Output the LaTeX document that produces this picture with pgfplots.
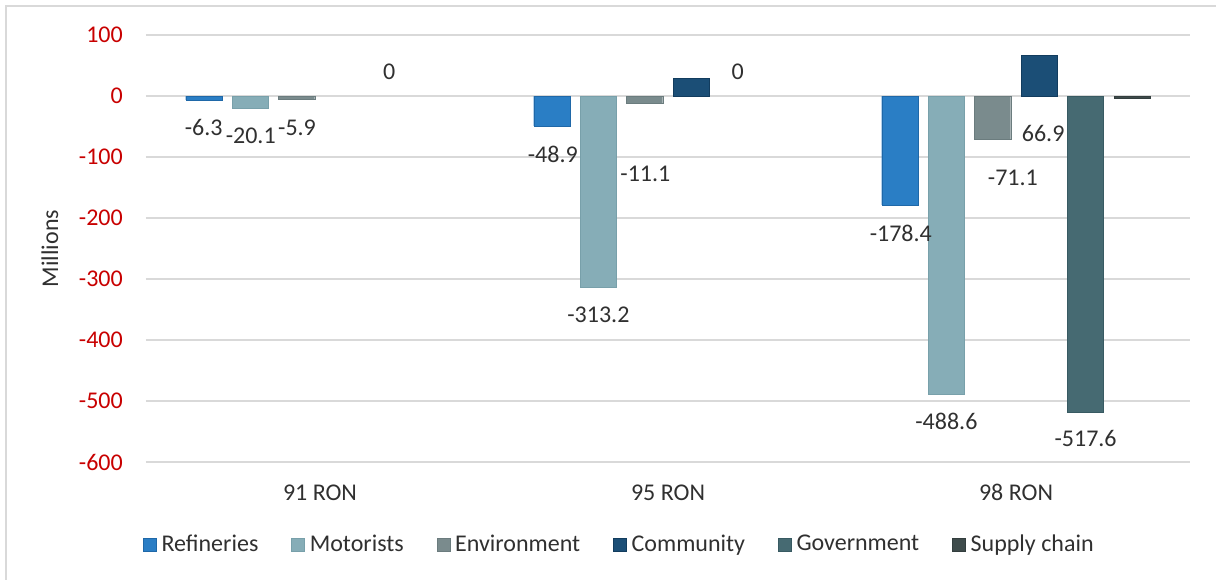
\documentclass[border=0pt]{standalone}
\usepackage{pgfplots}
\pgfplotsset{compat=1.18}
\usepackage{fontspec}
\setmainfont{Carlito}
\definecolor{cRef}{HTML}{2A7EC5}
\definecolor{cRefE}{HTML}{1F68A8}
\definecolor{cMot}{HTML}{86ADB7}
\definecolor{cMotE}{HTML}{78A0AA}
\definecolor{cEnv}{HTML}{7A8B8D}
\definecolor{cEnvE}{HTML}{6B7C7E}
\definecolor{cCom}{HTML}{1B4E76}
\definecolor{cComE}{HTML}{123C5E}
\definecolor{cGov}{HTML}{466A72}
\definecolor{cGovE}{HTML}{385A62}
\definecolor{cSup}{HTML}{3E4B4B}
\definecolor{cSupE}{HTML}{333E3E}
\definecolor{gridc}{HTML}{D9D9D9}
\definecolor{tickred}{HTML}{C80000}
\definecolor{txt}{HTML}{303030}
\pgfplotsset{sqleg/.style={legend image code/.code={\draw[##1] (0bp,-6.5bp) rectangle (13bp,6.5bp);}}}
\begin{document}
\fontsize{24bp}{28bp}\selectfont
\begin{tikzpicture}[lbl/.style={font=\fontsize{24bp}{28bp}\selectfont, text=txt, inner sep=0pt}]
\useasboundingbox (-146bp,-118bp) rectangle (1070bp,462bp);
\draw[gridc, line width=1.2bp] (-140bp,-130bp) -- (-140bp,456bp) -- (1080bp,456bp);
\begin{axis}[
  scale only axis,
  width=1044bp, height=427bp,
  xmin=-0.5, xmax=2.5,
  ymin=-600, ymax=100,
  ybar,
  bar width=0.1036,
  axis line style={draw=none},
  major tick length=0pt,
  xtick={0,1,2},
  xticklabels={91 RON,95 RON,98 RON},
  ytick={-600,-500,-400,-300,-200,-100,0,100},
  yticklabels={-600,-500,-400,-300,-200,-100,0,100},
  ymajorgrids,
  major grid style={gridc, line width=2bp},
  yticklabel style={text=tickred, anchor=east, inner sep=0pt, xshift=-23bp, font=\fontsize{24bp}{28bp}\selectfont},
  xticklabel style={text=txt, anchor=base, inner sep=0pt, yshift=-38bp, font=\fontsize{24bp}{28bp}\selectfont},
  ylabel={Millions},
  every axis y label/.style={at={(axis description cs:0,0.5)}, xshift=-96bp, rotate=90, anchor=center, text=txt, font=\fontsize{24bp}{28bp}\selectfont},
  legend columns=6,
  legend style={at={(axis description cs:-0.0029,-0.1944)}, anchor=west, draw=none, inner sep=0pt, fill=none,
    font=\fontsize{24bp}{28bp}\selectfont, text=txt,
    nodes={inner xsep=2bp, inner ysep=0pt},
    /tikz/every odd column/.append style={column sep=3bp},
    /tikz/every even column/.append style={column sep=31bp}},
  clip=false,
]
\addplot[sqleg, bar shift=-0.334, fill=cRef, draw=cRefE] coordinates {(0,-6.3) (1,-48.9) (2,-178.4)};
\addlegendentry{Refineries}
\addplot[sqleg, bar shift=-0.200, fill=cMot, draw=cMotE] coordinates {(0,-20.1) (1,-313.2) (2,-488.6)};
\addlegendentry{Motorists}
\addplot[sqleg, bar shift=-0.067, fill=cEnv, draw=cEnvE] coordinates {(0,-5.9) (1,-11.1) (2,-71.1)};
\addlegendentry{Environment}
\addplot[sqleg, bar shift=0.067, fill=cCom, draw=cComE] coordinates {(1,29) (2,66.9)};
\addlegendentry{Community}
\addplot[sqleg, bar shift=0.200, fill=cGov, draw=cGovE] coordinates {(2,-517.6)};
\addlegendentry{Government}
\addplot[sqleg, bar shift=0.334, fill=cSup, draw=cSupE] coordinates {(2,-3)};
\addlegendentry{Supply chain}
\node[lbl] at (axis cs:-0.334,-52) {-6.3};
\node[lbl] at (axis cs:-0.199,-65) {-20.1};
\node[lbl] at (axis cs:-0.066,-52) {-5.9};
\node[lbl] at (axis cs:0.199,39) {0};
\node[lbl] at (axis cs:0.669,-95) {-48.9};
\node[lbl] at (axis cs:0.800,-359) {-313.2};
\node[lbl] at (axis cs:0.935,-128) {-11.1};
\node[lbl] at (axis cs:1.200,39) {0};
\node[lbl] at (axis cs:1.669,-225) {-178.4};
\node[lbl] at (axis cs:1.800,-534) {-488.6};
\node[lbl] at (axis cs:1.991,-134) {-71.1};
\node[lbl] at (axis cs:2.078,-62) {66.9};
\node[lbl] at (axis cs:2.200,-561) {-517.6};
\end{axis}
\end{tikzpicture}
\end{document}
